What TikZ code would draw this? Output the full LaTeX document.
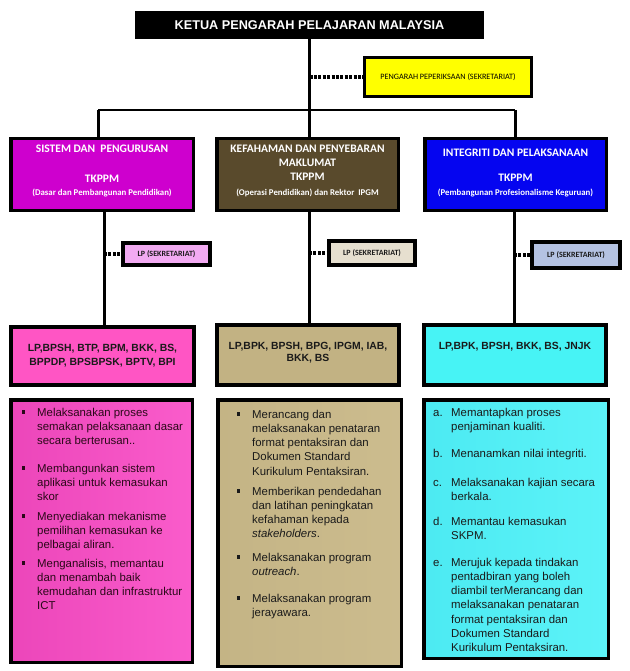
\documentclass[tikz,border=0pt]{standalone}
\usepackage{fontspec}
\setmainfont{Liberation Sans}
\newfontfamily\calfont{Carlito}
\definecolor{magA}{HTML}{CE00CE}
\definecolor{brownA}{HTML}{594A2C}
\definecolor{blueA}{HTML}{0505F0}
\definecolor{yel}{HTML}{FFFF00}
\definecolor{lpPink}{HTML}{F2AAF2}
\definecolor{lpTan}{HTML}{E6DFCF}
\definecolor{lpBlue}{HTML}{B4C2E2}
\definecolor{pinkC}{HTML}{FF55C4}
\definecolor{tanC}{HTML}{C2B283}
\definecolor{cyanC}{HTML}{47F3F5}
\definecolor{pinkL}{HTML}{EC46BA}
\definecolor{pinkR}{HTML}{FA5CCB}
\definecolor{tanL}{HTML}{C4B485}
\definecolor{tanR}{HTML}{CCBC8E}
\definecolor{cyanL}{HTML}{4CEAF2}
\definecolor{cyanR}{HTML}{5CF3F8}
\definecolor{txtdark}{HTML}{1A1A1A}
\definecolor{txtmaroon}{HTML}{2A0818}
\newcommand{\bul}{\raisebox{2.5pt}{\rule{3.2pt}{3.2pt}}}
\newcommand{\bitem}[3]{\makebox[#1][l]{#2}\parbox[t]{165pt}{\raggedright #3}}
\tikzset{
  box/.style={rectangle, draw=black, inner sep=0pt, anchor=center},
  hdr/.style={box, line width=3.5pt},
  lpbox/.style={box, line width=4pt, font=\calfont\bfseries\fontsize{8}{9}\selectfont, text=txtdark},
  grp/.style={box, line width=4pt},
  duty/.style={box, line width=3.5pt},
  hdrtxt/.style={inner sep=0pt, anchor=center, text=white, font=\calfont\bfseries\fontsize{11.5}{13}\selectfont},
  subtxt/.style={inner sep=0pt, anchor=center, text=white, font=\calfont\bfseries\fontsize{8.8}{10}\selectfont},
  grptxt/.style={inner sep=0pt, anchor=center, align=center, text=txtdark, font=\bfseries\fontsize{10.4}{13.8}\selectfont},
  itm/.style={inner sep=0pt, anchor=base west, font=\fontsize{11.4}{14.3}\selectfont},
  trunk/.style={line width=3pt},
  thin/.style={line width=2pt},
  dotlink/.style={line width=3.6pt, dash pattern=on 3pt off 1.4pt}
}
\begin{document}
\begin{tikzpicture}[x=1pt,y=-1pt]
\useasboundingbox (0,0) rectangle (629,671);
\fill[white] (0,0) rectangle (629,671);

% top
\node[rectangle, fill=black, inner sep=0pt, minimum width=349pt, minimum height=28pt, text=white, font=\bfseries\fontsize{12.7}{14}\selectfont] (top) at (309.5,25) {KETUA PENGARAH PELAJARAN MALAYSIA};
\node[box, line width=3pt, fill=yel, minimum width=167pt, minimum height=39pt, font=\calfont\fontsize{8.2}{9}\selectfont] (yellow) at (448,77) {\raisebox{-2pt}{PENGARAH PEPERIKSAAN (SEKRETARIAT)}};

% level 2
\node[hdr, fill=magA, minimum width=182.5pt, minimum height=71.5pt] (mag2) at (102,174.5) {};
\node[hdr, fill=brownA, minimum width=181.5pt, minimum height=71.5pt] (brown2) at (307.5,174.5) {};
\node[hdr, fill=blueA, minimum width=181.5pt, minimum height=71.5pt] (blue2) at (515.5,174.5) {};

\node[hdrtxt] (m2a) at (102,149) {SISTEM DAN\ \ PENGURUSAN};
\node[hdrtxt] (m2b) at (102,179) {TKPPM};
\node[subtxt] (m2c) at (102,193) {(Dasar dan Pembangunan Pendidikan)};

\node[hdrtxt] (b2a) at (307.5,149) {KEFAHAMAN DAN PENYEBARAN};
\node[hdrtxt] (b2b) at (307.5,163) {MAKLUMAT};
\node[hdrtxt] (b2c) at (307.5,177) {TKPPM};
\node[subtxt] (b2d) at (307.5,193) {(Operasi Pendidikan) dan Rektor\ \ IPGM};

\node[hdrtxt] (u2a) at (515.5,153) {INTEGRITI DAN PELAKSANAAN};
\node[hdrtxt] (u2b) at (515.5,178) {TKPPM};
\node[subtxt] (u2c) at (515.5,193) {(Pembangunan Profesionalisme Keguruan)};

% LP secretariat boxes
\node[lpbox, fill=lpPink, minimum width=87pt, minimum height=22pt] (lp1) at (166.5,254) {LP (SEKRETARIAT)};
\node[lpbox, fill=lpTan, minimum width=86pt, minimum height=24pt] (lp2) at (372,253) {LP (SEKRETARIAT)};
\node[lpbox, fill=lpBlue, minimum width=88pt, minimum height=26pt] (lp3) at (576,255) {LP (SEKRETARIAT)};

% level 3
\node[grp, fill=pinkC, minimum width=183pt, minimum height=58pt] (mag3) at (102.5,356) {};
\node[grp, fill=tanC, minimum width=182pt, minimum height=60pt] (brown3) at (308,355) {};
\node[grp, fill=cyanC, minimum width=182pt, minimum height=60pt] (blue3) at (515,355) {};
\node[grptxt] (m3t) at (102.5,356) {LP,BPSH, BTP, BPM, BKK, BS,\\BPPDP, BPSBPSK, BPTV, BPI};
\node[grptxt, font=\bfseries\fontsize{10.4}{12.5}\selectfont] (b3t) at (308,352.5) {LP,BPK, BPSH, BPG, IPGM, IAB,\\BKK, BS};
\node[grptxt] (u3t) at (515,347) {LP,BPK, BPSH, BKK, BS, JNJK};

% level 4
\node[duty, left color=pinkL, right color=pinkR, minimum width=181.5pt, minimum height=262.5pt] (mag4) at (101.5,531) {};
\node[duty, left color=tanL, right color=tanR, minimum width=183.5pt, minimum height=266.5pt] (brown4) at (309.5,533) {};
\node[duty, left color=cyanL, right color=cyanR, minimum width=184.5pt, minimum height=258.5pt] (blue4) at (516,529) {};

% connectors
\coordinate (hl) at (98,110);
\coordinate (hr) at (515,110);
\coordinate (cL) at (104,0);
\coordinate (cM) at (309,0);
\coordinate (cR) at (514,0);
\draw[trunk] (top.south) -- (top.south |- brown2.north);
\draw[thin] (hl) -- (hr);
\draw[trunk] (hl) -- (hl |- mag2.north);
\draw[trunk] (hr) -- (hr |- blue2.north);
\draw[dotlink] (top.south |- yellow.west) -- (yellow.west);
\draw[trunk] (cL |- mag2.south) -- (cL |- mag3.north);
\draw[trunk] (cM |- brown2.south) -- (cM |- brown3.north);
\draw[trunk] (cR |- blue2.south) -- (cR |- blue3.north);
\draw[dotlink] (cL |- lp1.west) -- (lp1.west);
\draw[dotlink] (cM |- lp2.west) -- (lp2.west);
\draw[dotlink] (cR |- lp3.west) -- (lp3.west);

% duty items pink
\begin{scope}[every node/.append style={text=txtmaroon}]
\node[itm] (p1) at (22,416) {\bitem{15pt}{\bul}{Melaksanakan proses\\semakan pelaksanaan dasar\\secara berterusan..}};
\node[itm] (p2) at (22,472) {\bitem{15pt}{\bul}{Membangunkan sistem\\aplikasi untuk kemasukan\\skor}};
\node[itm] (p3) at (22,520) {\bitem{15pt}{\bul}{Menyediakan mekanisme\\pemilihan kemasukan ke\\pelbagai aliran.}};
\node[itm] (p4) at (22,567) {\bitem{15pt}{\bul}{Menganalisis, memantau\\dan menambah baik\\kemudahan dan infrastruktur\\ICT}};
\end{scope}

% duty items tan
\begin{scope}[every node/.append style={text=txtdark}]
\node[itm] (t1) at (237,418) {\bitem{15pt}{\bul}{Merancang dan\\melaksanakan penataran\\format pentaksiran dan\\Dokumen Standard\\Kurikulum Pentaksiran.}};
\node[itm] (t2) at (237,495) {\bitem{15pt}{\bul}{Memberikan pendedahan\\dan latihan peningkatan\\kefahaman kepada\\\textit{stakeholders}.}};
\node[itm] (t3) at (237,561) {\bitem{15pt}{\bul}{Melaksanakan program\\\textit{outreach}.}};
\node[itm] (t4) at (237,602) {\bitem{15pt}{\bul}{Melaksanakan program\\jerayawara.}};

% duty items cyan
\node[itm] (c1) at (433,416) {\bitem{18pt}{a.}{Memantapkan proses\\penjaminan kualiti.}};
\node[itm] (c2) at (433,457) {\bitem{18pt}{b.}{Menanamkan nilai integriti.}};
\node[itm] (c3) at (433,486) {\bitem{18pt}{c.}{Melaksanakan kajian secara\\berkala.}};
\node[itm] (c4) at (433,525) {\bitem{18pt}{d.}{Memantau kemasukan\\SKPM.}};
\node[itm] (c5) at (433,566) {\bitem{18pt}{e.}{Merujuk kepada tindakan\\pentadbiran yang boleh\\diambil terMerancang dan\\melaksanakan penataran\\format pentaksiran dan\\Dokumen Standard\\Kurikulum Pentaksiran.}};
\end{scope}
\end{tikzpicture}
\end{document}
